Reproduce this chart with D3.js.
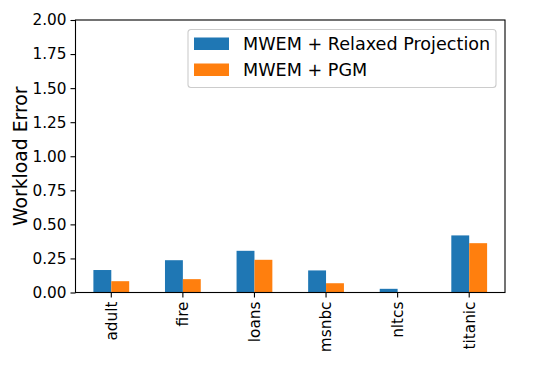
<!DOCTYPE html>
<html>
<head>
<meta charset="utf-8">
<script src="https://cdn.jsdelivr.net/npm/d3@7"></script>
<style>
  body { margin: 0; background: #fff; }
  text { font-family: "DejaVu Sans", sans-serif; fill: #000; }
</style>
</head>
<body>
<div id="vis"></div>
<script>
const categories = ["adult", "fire", "loans", "msnbc", "nltcs", "titanic"];
const seriesNames = ["MWEM + Relaxed Projection", "MWEM + PGM"];
const relaxedValues = [0.165, 0.237, 0.306, 0.162, 0.027, 0.419];
const pgmValues = [0.083, 0.098, 0.240, 0.068, 0.002, 0.362];
const yTicks = [0, 0.25, 0.5, 0.75, 1.0, 1.25, 1.5, 1.75, 2.0];
const colors = ["#1f77b4", "#ff7f0e"];

const width = 548, height = 366;
const margin = { left: 75.5, right: 43, top: 20, bottom: 73.5 };

const svg = d3.select("#vis").append("svg")
  .attr("width", width)
  .attr("height", height);

const x = d3.scaleBand()
  .domain(categories)
  .range([margin.left, width - margin.right])
  .paddingInner(0.5)
  .paddingOuter(0.25);

const xSub = d3.scaleBand()
  .domain(seriesNames)
  .range([0, x.bandwidth()]);

const y = d3.scaleLinear()
  .domain([0, 2])
  .range([height - margin.bottom, margin.top]);

const series = [relaxedValues, pgmValues];

// bars
series.forEach((vals, s) => {
  svg.append("g")
    .selectAll("rect")
    .data(vals)
    .join("rect")
      .attr("x", (d, i) => x(categories[i]) + xSub(seriesNames[s]))
      .attr("y", d => y(d))
      .attr("width", xSub.bandwidth())
      .attr("height", d => y(0) - y(d))
      .attr("fill", colors[s]);
});

// y axis
const yAxis = svg.append("g")
  .attr("transform", `translate(${margin.left},0)`)
  .call(d3.axisLeft(y).tickValues(yTicks).tickFormat(d3.format(".2f")).tickSize(5).tickPadding(4))
yAxis.select(".domain").remove();
yAxis.selectAll("text").style("font-size", "15.3px").attr("font-family", null);
yAxis.selectAll("line").attr("stroke", "#000").attr("stroke-width", 1.1);

// x axis
const xAxis = svg.append("g")
  .attr("transform", `translate(0,${height - margin.bottom})`)
  .call(d3.axisBottom(x).tickSize(5).tickPadding(4))
xAxis.select(".domain").remove();
xAxis.selectAll("line").attr("stroke", "#000").attr("stroke-width", 1.1);
xAxis.selectAll("text")
  .style("font-size", "15.3px")
  .attr("font-family", null)
  .attr("transform", "rotate(-90)")
  .attr("text-anchor", "end")
  .attr("x", -9)
  .attr("y", 0)
  .attr("dy", "0.35em");

// frame
svg.append("rect")
  .attr("x", margin.left)
  .attr("y", margin.top)
  .attr("width", width - margin.left - margin.right)
  .attr("height", height - margin.top - margin.bottom)
  .attr("fill", "none")
  .attr("stroke", "#000")
  .attr("stroke-width", 1.1);

// y label
svg.append("text")
  .attr("transform", `translate(27,${(margin.top + height - margin.bottom) / 2}) rotate(-90)`)
  .attr("text-anchor", "middle")
  .style("font-size", "18.8px")
  .text("Workload Error");

// legend
const legend = svg.append("g").attr("transform", "translate(188,29.5)");
legend.append("rect")
  .attr("width", 308)
  .attr("height", 58)
  .attr("rx", 3)
  .attr("fill", "#fff")
  .attr("fill-opacity", 0.8)
  .attr("stroke", "#ccc")
  .attr("stroke-width", 1.1);

seriesNames.forEach((name, i) => {
  const row = legend.append("g").attr("transform", `translate(0,${8 + i * 26})`);
  row.append("rect")
    .attr("x", 6)
    .attr("width", 35)
    .attr("height", 12.5)
    .attr("fill", colors[i]);
  row.append("text")
    .attr("x", 55)
    .attr("y", 6.5)
    .attr("dy", "0.35em")
    .style("font-size", "17.6px")
    .text(name);
});
</script>
</body>
</html>
